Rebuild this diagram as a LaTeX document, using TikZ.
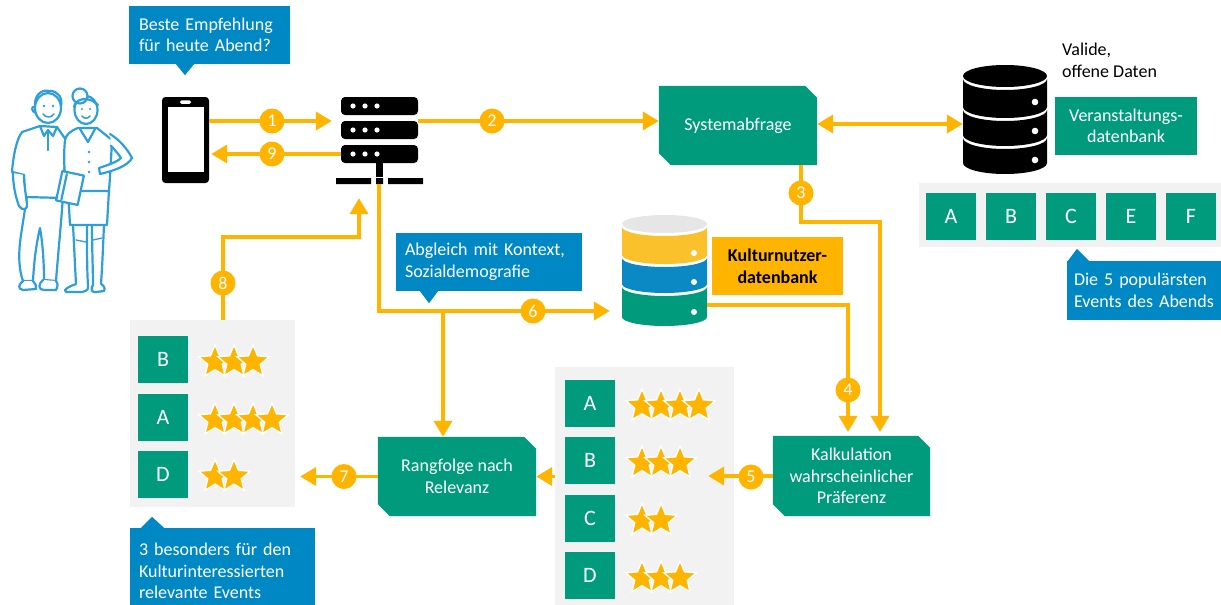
\documentclass[tikz,border=0pt]{standalone}
\usepackage{fontspec}
\setmainfont{Carlito}
\usetikzlibrary{arrows.meta,calc,backgrounds}

\definecolor{tealc}{HTML}{009B7D}
\definecolor{goldc}{HTML}{FFB400}
\definecolor{bubblec}{HTML}{0088C5}
\definecolor{panelc}{HTML}{F2F2F2}
\definecolor{dbyellow}{HTML}{FBC12D}
\definecolor{dbblue}{HTML}{0A89C5}
\definecolor{dbtop}{HTML}{E6E6E6}
\definecolor{inkblue}{HTML}{2E9FD8}

\newcommand\txtfont{\fontsize{18}{21.5}\selectfont}

% green process box with two cut corners, painted behind the node
\newcommand\chamferfill[1]{%
  \begin{scope}[on background layer]
    \fill[tealc] (#1.north west) -- ([xshift=-12pt]#1.north east)
      -- ([yshift=-12pt]#1.north east) -- (#1.south east)
      -- ([xshift=12pt]#1.south west) -- ([yshift=12pt]#1.south west) -- cycle;
  \end{scope}}

\tikzset{
  flow/.style={draw=goldc, line width=3.6pt, -{Triangle[length=16pt,width=18pt]}},
  twoway/.style={draw=goldc, line width=3.6pt, {Triangle[length=16pt,width=18pt]}-{Triangle[length=16pt,width=18pt]}},
  num/.style={circle, fill=goldc, minimum size=25pt, inner sep=0pt, text=white,
    font=\fontsize{18}{18}\selectfont},
  procbox/.style={minimum width=158pt, minimum height=79pt, inner sep=0pt,
    text=white, align=center, font=\txtfont},
  bubble/.style={fill=bubblec, text=white, align=left, inner ysep=0pt, font=\txtfont},
  letter/.style={fill=tealc, text=white, minimum width=50pt, minimum height=47pt,
    inner sep=0pt, font=\fontsize{22}{22}\selectfont},
  panel/.style={fill=panelc, inner sep=0pt},
  person/.style={draw=inkblue, line width=2.2pt, line cap=round, line join=round, fill=white},
  personline/.style={draw=inkblue, line width=2.2pt, line cap=round, line join=round},
  ratestar/.pic={
    \filldraw[fill=goldc, draw=white, line width=1.3pt]
      (90:17pt) -- (126:7.6pt) -- (162:17pt) -- (198:7.6pt) -- (234:17pt)
      -- (270:7.6pt) -- (306:17pt) -- (342:7.6pt) -- (18:17pt) -- (54:7.6pt) -- cycle;
  }
}

\begin{document}
\begin{tikzpicture}[x=1pt,y=-1pt]
\useasboundingbox (0,0) rectangle (1221,605);
\begin{scope}[on background layer]
  \fill[white] (0,0) rectangle (1221,605);
\end{scope}

% ---------- two people ----------
% man: trousers, shoes, shirt, arm, head
\draw[person] (27,196) -- (21,235) .. controls (18,255) and (19,270) .. (23,281) -- (33,281)
  .. controls (34,262) and (36,245) .. (40,228) .. controls (43,245) and (44,265) .. (44,280)
  -- (56,281) .. controls (58,255) and (61,225) .. (63,196) -- cycle;
\draw[person] (23,281) .. controls (19,284) and (17,289) .. (23,290) -- (36,289)
  .. controls (37,286) and (35,283) .. (33,281);
\draw[person] (43,280) .. controls (38,284) and (38,290) .. (44,290) -- (56,290)
  .. controls (58,287) and (58,283) .. (56,281);
\draw[person] (40,126) -- (22,132) .. controls (16,140) and (13,158) .. (12,172) -- (24,175)
  -- (25,197) -- (63,198) -- (66,140) -- (57,127) -- cycle;
\draw[person] (13,173) .. controls (13,186) and (16,198) .. (19,206)
  .. controls (22,211) and (28,210) .. (27,204) .. controls (26,195) and (24,185) .. (24,175);
\draw[personline] (40,126) -- (44,136) -- (48,130) -- (53,136) -- (57,127);
\draw[personline] (48,131) -- (48,150);
\draw[person] (35,107) .. controls (31,105) and (31,112) .. (36,113);
\draw[person] (48,108) ellipse [x radius=13pt, y radius=15pt];
\draw[personline] (35,104) .. controls (35,93) and (44,89) .. (50,91)
  .. controls (58,91) and (63,98) .. (61,106);
\fill[inkblue] (44,106) circle (1.3pt) (53,106) circle (1.3pt);
\draw[personline, line width=1.5pt] (43,114) .. controls (46,118) and (51,118) .. (54,114);

% woman: legs, shoes, skirt, blouse, arm, book, head
\draw[personline] (73,224) .. controls (74,245) and (75,265) .. (76,284)
  (87,224) .. controls (87,250) and (87,270) .. (88,286);
\draw[personline] (92,224) .. controls (92,250) and (93,270) .. (93,285)
  (104,224) .. controls (103,250) and (102,270) .. (101,284);
\draw[personline, line width=1.3pt] (76,240) -- (86,242) (93,240) -- (102,238);
\draw[person] (76,284) .. controls (70,286) and (62,290) .. (66,292) -- (82,292)
  .. controls (88,291) and (89,288) .. (88,286);
\draw[person] (93,285) .. controls (90,289) and (92,293) .. (96,292) -- (104,291)
  .. controls (106,288) and (103,285) .. (101,284);
\draw[person] (68,190) -- (70,225) -- (107,225) -- (109,190) -- cycle;
\draw[person] (78,128) .. controls (70,131) and (66,135) .. (65,140)
  .. controls (63,160) and (65,178) .. (67,191) -- (109,191)
  .. controls (110,178) and (111,160) .. (112,140) -- (97,128) -- cycle;
\draw[person] (110,134) .. controls (120,140) and (128,150) .. (132,158)
  .. controls (128,166) and (113,171) .. (100,174) -- (99,168)
  .. controls (108,165) and (117,162) .. (121,158) .. controls (117,152) and (113,148) .. (111,146);
\draw[personline] (80,129) -- (88,142) -- (95,129);
\fill[inkblue] (89,152) circle (1.4pt) (89,162) circle (1.4pt) (89,172) circle (1.4pt);
\draw[person, rotate around={-12:(70,188)}] (59,173) rectangle (81,203);
\draw[personline, rotate around={-12:(70,188)}] (64,175) -- (64,201);
\draw[person] (86,110) ellipse [x radius=11.5pt, y radius=14pt];
\draw[person] (80,96) circle (7.5pt);
\draw[personline] (74,107) .. controls (75,99) and (88,95) .. (98,105);
\fill[inkblue] (82,109) circle (1.2pt) (90,109) circle (1.2pt);
\draw[personline, line width=1.5pt] (82,116) .. controls (84,119) and (88,119) .. (90,116);

% ---------- question bubble ----------
\node[bubble, text width=141pt, inner xsep=10pt, minimum height=58pt] (q) at (209.5,35)
  {Beste Empfehlung\\für heute Abend?};
\fill[bubblec] ([xshift=-33.5pt]q.south) -- ([xshift=-15.5pt]q.south)
  -- ([xshift=-24.5pt,yshift=-11pt]q.south) -- cycle;

% ---------- smartphone ----------
\node[fill=black, rounded corners=3.5pt, minimum width=47pt, minimum height=86pt, inner sep=0pt]
  (phone) at (185.5,140) {};
\fill[white] ([shift={(6pt,-10pt)}]phone.north west) rectangle ([shift={(-5pt,11pt)}]phone.south east);
\fill[white, rounded corners=1.5pt] ([shift={(-5.5pt,-3.5pt)}]phone.north)
  rectangle ([shift={(5.5pt,-7pt)}]phone.north);

% ---------- server ----------
\node[minimum width=77pt, minimum height=66pt, inner sep=0pt] (srv) at (379.5,130) {};
\foreach \yy in {106,130,154} {
  \fill[black, rounded corners=4pt] (341,\yy-9) rectangle (418,\yy+9);
  \fill[white] (353,\yy) circle (2.6pt) (365,\yy) circle (2.6pt) (377,\yy) circle (2.6pt);
}
\fill[black] (376,163) rectangle (383,177);
\fill[black] (336,178) rectangle (371,184) (376,178) rectangle (383,184) (388,178) rectangle (423,184);
\node[minimum width=87pt, minimum height=6pt, inner sep=0pt] (bus) at (379.5,181) {};

% ---------- system query ----------
\node[procbox] (sys) at (738,125.5) {Systemabfrage};
\chamferfill{sys}

% ---------- event database (black) ----------
\node[minimum width=84pt, minimum height=110pt, inner sep=0pt] (vdb) at (1005,120) {};
\fill[black] (1005,76) ellipse [x radius=42pt, y radius=11pt];
\foreach \ta/\tb in {79/107,110/135,138/163} {
  \fill[black] (963,\ta) arc[start angle=180, end angle=360, x radius=42pt, y radius=11pt]
    -- (1047,\tb) arc[start angle=0, end angle=-180, x radius=42pt, y radius=11pt] -- cycle;
}
\fill[white] (1035,102) circle (3.3pt) (1035,131) circle (3.3pt) (1035,160) circle (3.3pt);
\node[anchor=north west, align=left, inner sep=0pt, font=\txtfont] (valide) at (1062,43)
  {Valide,\\offene Daten};
\node[fill=tealc, text=white, align=center, minimum width=142pt, minimum height=58pt,
  inner sep=0pt, font=\txtfont] (vbox) at (1126,126) {Veranstaltungs-\\datenbank};

% ---------- five most popular events ----------
\node[panel, minimum width=302pt, minimum height=64pt] (events) at (1070,215) {};
\node[letter] (evA) at (951,216.5) {A};
\node[letter] (evB) at (1011,216.5) {B};
\node[letter] (evC) at (1071,216.5) {C};
\node[letter] (evE) at (1131,216.5) {E};
\node[letter] (evF) at (1191,216.5) {F};
\node[bubble, text width=140pt, inner xsep=7pt, minimum height=59pt] (top5) at (1144,290.5)
  {Die 5 populärsten\\Events des Abends};
\fill[bubblec] ([xshift=-76pt]top5.north) -- ([xshift=-55pt]top5.north)
  -- ([xshift=-67pt,yshift=12pt]top5.north) -- cycle;

% ---------- user database (coloured) ----------
\node[minimum width=85pt, minimum height=112pt, inner sep=0pt] (kdb) at (664.5,271) {};
\fill[dbtop] (664.5,224) ellipse [x radius=42.5pt, y radius=9pt];
\foreach \ta/\tb/\cc in {227/255/dbyellow,258/284/dbblue,287/317/tealc} {
  \fill[\cc] (622,\ta) arc[start angle=180, end angle=360, x radius=42.5pt, y radius=9pt]
    -- (707,\tb) arc[start angle=0, end angle=-180, x radius=42.5pt, y radius=9pt] -- cycle;
}
\fill[white] (694,253) circle (3pt) (694,282) circle (3pt) (694,312) circle (3pt);
\node[fill=goldc, text=black, align=center, minimum width=131pt, minimum height=58pt,
  inner sep=0pt, font=\txtfont\bfseries] (kbox) at (777.5,266) {Kulturnutzer-\\datenbank};

% ---------- context bubble ----------
\node[bubble, text width=168pt, inner xsep=9pt, minimum height=58pt] (ab) at (489,262)
  {Abgleich mit Kontext,\\Sozialdemografie};
\fill[bubblec] ([xshift=-69pt]ab.south) -- ([xshift=-51pt]ab.south)
  -- ([xshift=-60pt,yshift=-12pt]ab.south) -- cycle;

% ---------- calculation and ranking ----------
\node[procbox, minimum width=157pt, minimum height=80pt] (kalk) at (851.5,476)
  {Kalkulation\\wahrscheinlicher\\Präferenz};
\chamferfill{kalk}
\node[procbox] (rang) at (457,476.5) {Rangfolge nach\\Relevanz};
\chamferfill{rang}

% ---------- rated events (middle) ----------
\node[panel, minimum width=179pt, minimum height=238pt] (rank1) at (644.5,486) {};
\node[letter] (mA) at (590,403.5) {A};
\node[letter] (mB) at (590,460.5) {B};
\node[letter] (mC) at (590,518) {C};
\node[letter] (mD) at (590,575.5) {D};
\foreach \k in {0,...,3} \pic at ({642+19*\k},406) {ratestar};
\foreach \k in {0,...,2} \pic at ({642+19*\k},463) {ratestar};
\foreach \k in {0,...,1} \pic at ({642+19*\k},520.5) {ratestar};
\foreach \k in {0,...,2} \pic at ({642+19*\k},578) {ratestar};

% ---------- selected events (left) ----------
\node[panel, minimum width=165pt, minimum height=187pt] (rank2) at (212.5,413.5) {};
\node[letter] (lB) at (163,359.5) {B};
\node[letter] (lA) at (163,417.5) {A};
\node[letter] (lD) at (163,474) {D};
\foreach \k in {0,...,2} \pic at ({215+19*\k},362) {ratestar};
\foreach \k in {0,...,3} \pic at ({215+19*\k},420) {ratestar};
\foreach \k in {0,...,1} \pic at ({215+19*\k},476.5) {ratestar};
\node[bubble, text width=167pt, inner xsep=9pt, minimum height=86pt] (bes) at (222.5,571)
  {3 besonders für den\\Kulturinteressierten\\relevante Events};
\fill[bubblec] ([xshift=-81.5pt]bes.north) -- ([xshift=-58.5pt]bes.north)
  -- ([xshift=-70.5pt,yshift=11pt]bes.north) -- cycle;

% ---------- connectors ----------
\coordinate (split) at (443,311);
\draw[flow, shorten >=9pt] ([yshift=19pt]phone.east) -- ([yshift=9pt]srv.west);
\draw[flow, shorten >=2pt] ([yshift=-24pt]srv.west) -- ([yshift=-14pt]phone.east);
\draw[flow] ([yshift=9pt]srv.east) -- ([yshift=4.5pt]sys.west);
\draw[twoway] ([yshift=1.5pt]sys.east) -- ([yshift=-4pt]vdb.west);
\draw[flow, shorten >=4pt] ([xshift=63pt]sys.south) -- ++(0,57) -| ([xshift=28.5pt]kalk.north);
\draw[flow, shorten >=4pt] ([yshift=-34pt]kdb.east) -| ([xshift=-3.5pt]kalk.north);
\draw[flow] (kalk.west) -- ($(kalk.west -| rank1.east)+(-26,0)$);
\draw[flow, shorten >=12pt] ([xshift=-0.5pt]bus.south) |- ([yshift=-40pt]kdb.west);
\draw[flow] (split) -- (split |- rang.north);
\draw[flow] (rank1.west |- rang.east) -- (rang.east);
\draw[flow, shorten >=5pt] (rang.west) -- (rang.west -| rank2.east);
\draw[flow] ([xshift=10.5pt]rank2.north) -- ++(0,-83) -| ([xshift=-20.5pt,yshift=-14pt]bus.south);

% ---------- step numbers ----------
\node[num] (n1) at (272,121) {1};
\node[num] (n2) at (492,121) {2};
\node[num] (n3) at (801,193) {3};
\node[num] (n4) at (848,390) {4};
\node[num] (n5) at (751,477) {5};
\node[num] (n6) at (533,311) {6};
\node[num] (n7) at (344,476.5) {7};
\node[num] (n8) at (223,283) {8};
\node[num] (n9) at (272,154) {9};
\end{tikzpicture}
\end{document}
